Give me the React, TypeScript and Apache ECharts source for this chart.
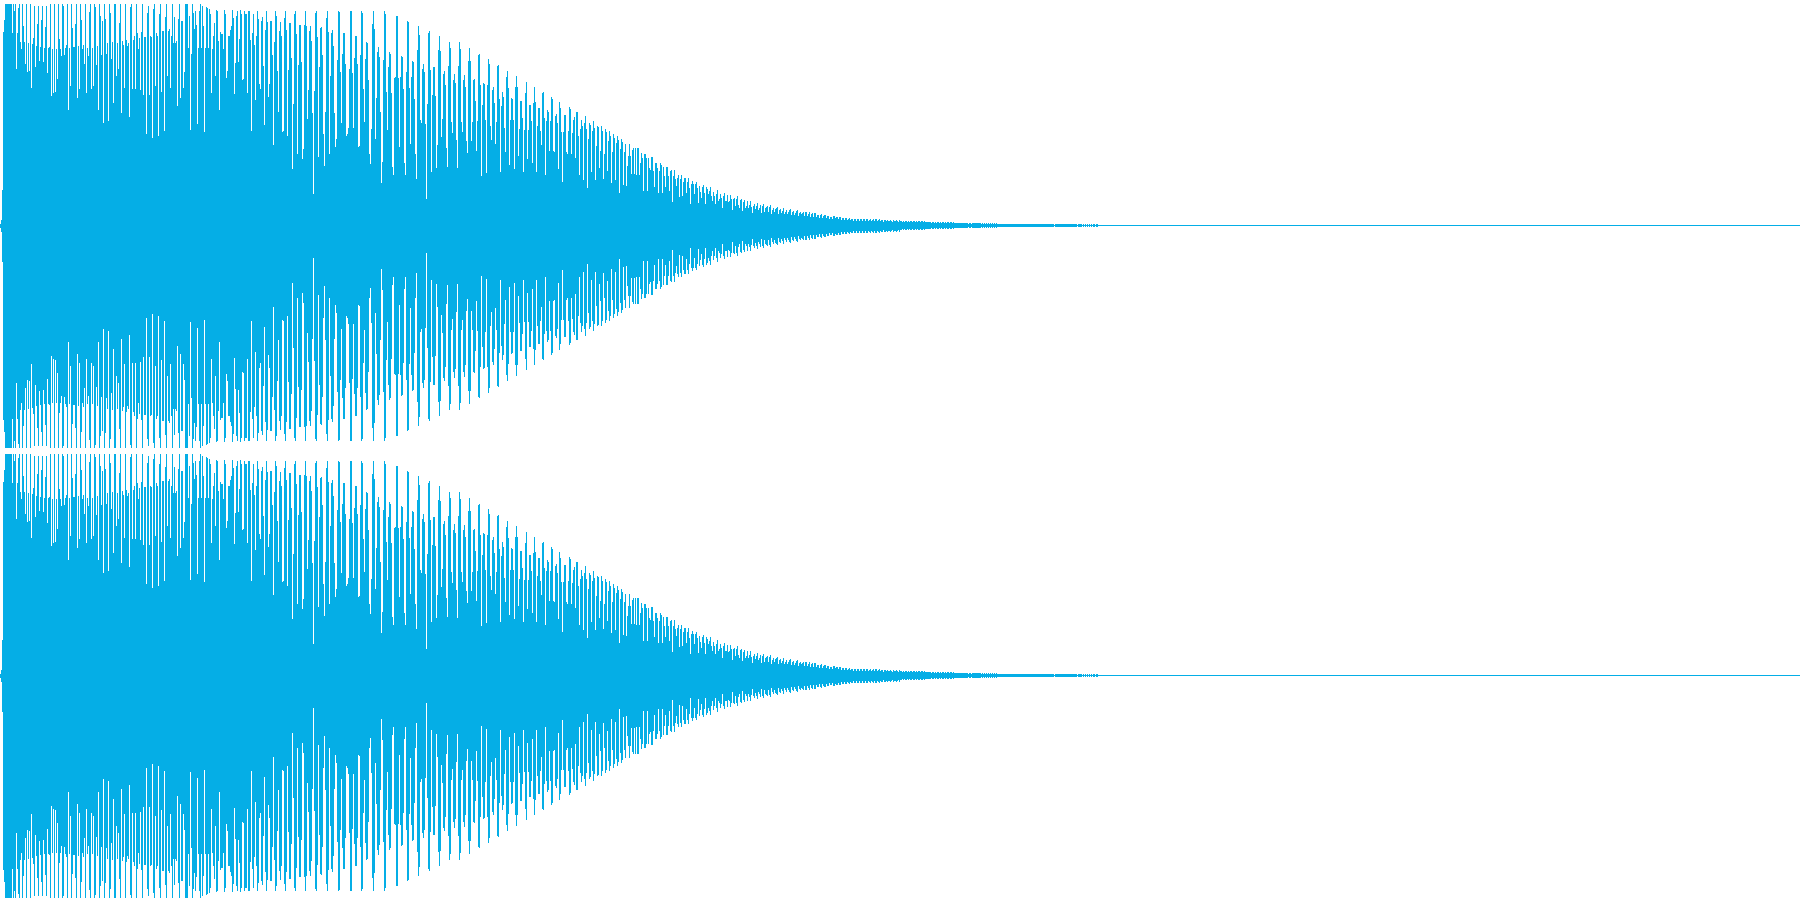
import React, { useEffect, useRef } from "react";
import * as echarts from "echarts";

// Amplitude read per pixel column of the waveform; both channels are mirror-symmetric around their centre.
const ampAttack = [
  2,6,36,194,206,222,222,222,222,222,222,222,193,222,215,222,157,193,218,222,
  184,177,222,200,184,162,222,154,183,155,222,138,182,188,220,159,180,202,220,165,
  179,206,220,164,178,199,220,153,178,179,222,130,177,133,222,134,177,147,222,187,
  177,170,222,220,171,178,181,222,116,178,140,222,198,179,179,202,222,128,180,137,
  222,206,177,181,162,222,133,178,170,214,222,137,178,140,222,219,161,180,116,222,
];
const ampRidge = [
  210,171,205,103,222,207,172,183,105,222,213,167,184,123,222,222,150,183,157,203,
  222,113,185,181,138,222,186,180,183,109,219,222,137,186,190,137,222,193,177,188,
  136,194,222,131,189,189,92,213,220,131,190,189,88,217,222,140,193,190,90,212,
  222,134,195,195,95,209,222,150,195,197,138,190,222,183,209,183,185,120,207,222,
  128,205,205,138,154,222,222,222,178,210,96,172,222,213,197,215,201,102,178,215,
  222,178,220,200,94,178,219,218,178,217,212,133,177,190,203,150,216,215,185,116,
  194,192,192,177,216,212,148,155,190,190,196,200,216,208,132,163,210,215,164,187,
  216,212,146,147,215,212,212,133,215,215,186,95,193,212,181,126,190,215,207,142,
  137,205,209,160,101,196,215,204,129,142,205,205,171,81,184,215,210,155,114,195,
  204,190,94,95,208,215,196,90,156,203,203,168,57,122,212,215,192,72,161,201,
];
const ampFall = [
  201,164,67,77,201,215,200,107,136,195,200,185,113,32,135,213,215,189,69,159,
  198,199,171,92,60,114,208,215,194,72,150,193,196,180,113,79,87,166,215,214,
  154,103,172,193,193,162,90,92,98,157,215,215,153,98,168,190,190,162,79,80,
  171,215,213,137,104,167,184,183,146,72,62,97,202,215,197,87,128,174,179,169,
  114,43,64,166,215,212,134,96,159,174,172,133,59,51,148,149,210,210,148,79,
  149,170,169,137,63,51,154,205,204,138,82,149,165,164,127,72,47,176,200,191,
  106,103,157,162,154,102,27,122,193,195,156,54,131,159,159,130,58,81,176,190,
  175,89,107,152,155,141,78,59,160,184,178,104,93,146,152,143,86,58,160,184,
  177,104,94,146,151,139,85,73,165,178,165,85,104,146,147,125,75,105,171,172,
  141,50,121,143,142,106,53,141,167,162,100,86,136,139,123,82,104,160,161,127,
  54,120,134,129,98,74,149,155,138,61,106,128,127,106,57,139,150,139,70,97,
  125,125,108,54,96,133,144,67,96,121,121,105,63,123,139,124,54,100,118,118,
  95,81,133,134,108,51,105,116,114,75,105,129,127,75,74,110,112,103,57,124,
  118,94,44,94,111,111,74,72,95,119,117,72,93,106,109,68,114,114,90,51,
  97,106,100,46,103,110,97,38,87,103,101,54,95,105,98,46,80,100,99,58,
];
const ampDecay = [
  75,100,95,47,72,97,94,55,85,95,90,43,74,92,88,46,83,90,86,33,
  77,87,84,41,74,82,40,60,70,82,70,52,76,78,52,78,51,78,78,51,
  63,73,68,35,72,72,68,35,68,58,56,69,69,55,39,63,63,58,33,55,
  63,61,33,59,50,39,59,59,50,35,55,56,24,50,56,47,40,48,51,29,
  47,51,30,44,48,48,33,44,48,38,22,42,45,42,32,42,44,38,23,40,
  34,28,39,41,33,22,39,37,32,35,39,30,25,34,30,22,32,36,25,27,
  32,28,18,30,33,25,25,31,24,25,31,27,16,27,28,20,27,30,21,18,
  26,27,15,24,26,18,20,25,18,21,25,19,13,20,22,17,20,23,16,18,
  21,13,20,22,14,18,19,20,14,19,21,12,16,18,14,17,18,19,12,16,
  17,13,15,18,12,14,16,12,14,16,17,11,14,15,11,13,15,16,10,13,
  14,12,13,14,10,14,14,10,12,14,9,12,13,9,13,13,9,11,11,8,
  11,12,8,10,11,11,8,10,10,7,9,9,7,10,10,8,9,9,7,9,
  9,6,8,8,6,8,8,6,7,8,6,7,7,5,7,7,5,7,7,5,
  7,7,5,7,7,5,7,7,5,6,7,5,6,7,5,7,7,5,6,7,
  5,6,6,4,6,6,5,6,5,5,6,5,4,6,5,5,6,5,4,6,
];
const ampTail = [
  4.5,4.5,3.5,4.5,3.5,4.5,4.5,3.5,4.5,3.5,4.5,4.5,3.5,4.5,4.5,3.5,4.5,3.5,4.5,4.5,
  3.5,4.5,4.5,3.5,4.5,3.5,3.5,3.5,3.5,3.5,3.5,2.5,3.5,3.5,2.5,3.5,2.5,3.5,3.5,2.5,
  3.5,2.5,3.5,3.5,2.5,3.5,2.5,3.5,3.5,2.5,3.5,3.5,2.5,3.5,2.5,2.5,2.5,2.5,2.5,2.5,
  2.5,2.5,2.5,2.5,2.5,2.5,2.5,2.5,1.5,2.5,2.5,1.5,2.5,2.5,2.5,2.5,2.5,2.5,2.5,2.5,
  2.5,1.5,2.5,1.5,2.5,1.5,2.5,1.5,2.5,1.5,2.5,1.5,2.5,1.5,2.5,1.5,2.5,1.5,1.5,1.5,
  1.5,1.5,1.5,1.5,1.5,1.5,1.5,1.5,1.5,1.5,1.5,1.5,1.5,1.5,1.5,1.5,1.5,1.5,1.5,1.5,
  1.5,1.5,1.5,1.5,1.5,1.5,1.5,1.5,1.5,1.5,1.5,1.5,1.5,1.5,1.5,1.5,1.5,1.5,1.5,1.5,
  1.5,1.5,1.5,1.5,1.5,1.5,1.5,1.5,1.5,1.5,1.5,1.5,1.5,1.5,
  0.5,1.5,1.5,1.5,1.5,1.5,1.5,1.5,1.5,1.5,1.5,1.5,1.5,1.5,1.5,1.5,
  1.5,1.5,1.5,1.5,1.5,1.5,1.5,0.5,1.5,1.5,1.5,1.5,0.5,1.5,0.5,1.5,0.5,1.5,0.5,1.5,
  0.5,1.5,0.5,1.5,1.5,0.5,1.5,1.5,
];
const segmentStarts = [0, 100, 300, 600, 900];
const segments = [ampAttack, ampRidge, ampFall, ampDecay, ampTail];
const silence = [[1098, 0], [1800, 0]];

const COLOR = "#05AEE6";

const columns: number[][] = [];
segments.forEach((seg, s) => seg.forEach((a, i) => columns.push([segmentStarts[s] + i, a])));

const renderColumn = (_: any, api: any) => {
  const col = api.value(0);
  const a = api.value(1);
  const top = api.coord([col, a]);
  const bottom = api.coord([col, -a]);
  const y0 = Math.round(top[1]);
  const y1 = Math.round(bottom[1]);
  return {
    type: "rect",
    shape: { x: Math.round(top[0]), y: y0, width: 1, height: y1 - y0 },
    style: { fill: COLOR, stroke: "none" },
  };
};

const channel = (index: number) => [
  {
    type: "custom",
    xAxisIndex: index,
    yAxisIndex: index,
    data: columns,
    renderItem: renderColumn,
    encode: { x: 0, y: 1 },
    silent: true,
    clip: false,
    progressive: 0,
  },
  {
    type: "line",
    xAxisIndex: index,
    yAxisIndex: index,
    data: silence,
    showSymbol: false,
    silent: true,
    clip: false,
    lineStyle: { color: COLOR, width: 1 },
  },
];

export default function App() {
  const ref = useRef<HTMLDivElement>(null);
  useEffect(() => {
    document.body.style.margin = "0";
    const chart = echarts.init(ref.current!, undefined, { renderer: "svg" });
    const hidden = { show: false };
    const gridBase = { left: 0, width: 1800, height: 443, outerBoundsMode: "none", containLabel: false };
    chart.setOption({
      animation: false,
      backgroundColor: "#ffffff",
      tooltip: { show: false },
      legend: { show: false },
      grid: [
        { ...gridBase, top: 4 },
        { ...gridBase, top: 454 },
      ],
      xAxis: [0, 1].map((gridIndex) => ({ type: "value", gridIndex, min: 0, max: 1800, ...hidden })),
      yAxis: [0, 1].map((gridIndex) => ({ type: "value", gridIndex, min: -221.5, max: 221.5, ...hidden })),
      series: [...channel(0), ...channel(1)],
    });
    return () => chart.dispose();
  }, []);
  return <div ref={ref} style={{ position: "absolute", left: 0, top: 0, width: 1800, height: 900, background: "#fff" }} />;
}
